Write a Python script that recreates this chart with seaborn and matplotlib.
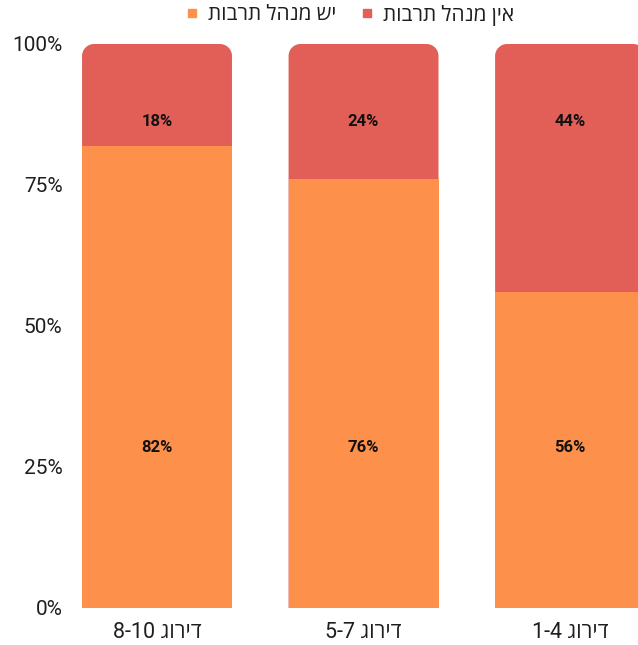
import matplotlib
matplotlib.use("Agg")
import matplotlib.pyplot as plt
from matplotlib.path import Path
from matplotlib.patches import PathPatch
from matplotlib.lines import Line2D
import seaborn as sns
import pandas as pd

sns.set_theme(style="white")
plt.rcParams["font.family"] = ["Roboto", "Open Sans", "DejaVu Sans"]

# Hebrew strings are stored in visual (left-to-right) order, since matplotlib has no bidi support
categories = ["8-10 גוריד", "5-7 גוריד", "1-4 גוריד"]
has_manager = [82, 76, 56]      # יש מנהל תרבות
no_manager = [18, 24, 44]       # אין מנהל תרבות
legend_labels = ["תוברת להנמ שי", "תוברת להנמ ןיא"]
y_ticks = [0, 25, 50, 75, 100]
y_ticklabels = ["0%", "25%", "50%", "75%", "100%"]

ORANGE = "#FD914B"
RED = "#E25F57"
TEXT = "#1E1E1E"

df = pd.DataFrame({
    "cat": categories,
    "has": has_manager,
    "total": [a + b for a, b in zip(has_manager, no_manager)],
})

fig = plt.figure(figsize=(6.38, 6.45), dpi=100)
ax = fig.add_axes([0.1176, 0.0574, 0.8824, 0.8744])

bar_w = 0.726
sns.barplot(data=df, x="cat", y="total", color=RED, width=bar_w,
            saturation=1, ax=ax, linewidth=0)
n_top = len(ax.patches)
sns.barplot(data=df, x="cat", y="has", color=ORANGE, width=bar_w,
            saturation=1, ax=ax, linewidth=0)
for p in list(ax.patches)[n_top:]:
    p.set_zorder(3)

ax.set_xlim(-0.397, 2.329)
ax.set_ylim(0, 100)

# round the top corners of the upper segments
rx = 12 / 206.5
ry = 12 / 5.64
k = 0.5523
for p in list(ax.patches)[:n_top]:
    x0, y0 = p.get_x(), p.get_y()
    x1, y1 = x0 + p.get_width(), y0 + p.get_height()
    verts = [
        (x0, y0), (x0, y1 - ry),
        (x0, y1 - ry + k * ry), (x0 + rx - k * rx, y1), (x0 + rx, y1),
        (x1 - rx, y1),
        (x1 - rx + k * rx, y1), (x1, y1 - ry + k * ry), (x1, y1 - ry),
        (x1, y0), (x0, y0),
    ]
    codes = [Path.MOVETO, Path.LINETO,
             Path.CURVE4, Path.CURVE4, Path.CURVE4,
             Path.LINETO,
             Path.CURVE4, Path.CURVE4, Path.CURVE4,
             Path.LINETO, Path.CLOSEPOLY]
    patch = PathPatch(Path(verts, codes), facecolor=p.get_facecolor(),
                      edgecolor="none", zorder=2)
    p.remove()
    ax.add_patch(patch)

# value labels
for i, (a, b) in enumerate(zip(has_manager, no_manager)):
    ax.text(i, 28.4, f"{a}%", ha="center", va="center", fontsize=12,
            fontweight="bold", color="#111111", zorder=5)
    ax.text(i, 86.2, f"{b}%", ha="center", va="center", fontsize=12,
            fontweight="bold", color="#111111", zorder=5)

ax.set_yticks(y_ticks)
ax.set_yticklabels(y_ticklabels)
ax.set_xlabel("")
ax.set_ylabel("")
ax.tick_params(axis="both", length=0, colors=TEXT)
ax.tick_params(axis="y", pad=9, labelsize=15)
ax.tick_params(axis="x", pad=10, labelsize=15.5)
for s in ax.spines.values():
    s.set_visible(False)
ax.grid(False)

handles = [Line2D([], [], marker="s", linestyle="", color=ORANGE, markersize=5.5),
           Line2D([], [], marker="s", linestyle="", color=RED, markersize=5.5)]
fig.legend(handles, legend_labels, loc="center", ncol=2,
           bbox_to_anchor=(350 / 638, 1 - 15 / 645), frameon=False,
           fontsize=15, handlelength=0.6, handletextpad=0.45,
           columnspacing=1.2, labelcolor=TEXT, borderaxespad=0)

fig.savefig("out.png", dpi=100)
